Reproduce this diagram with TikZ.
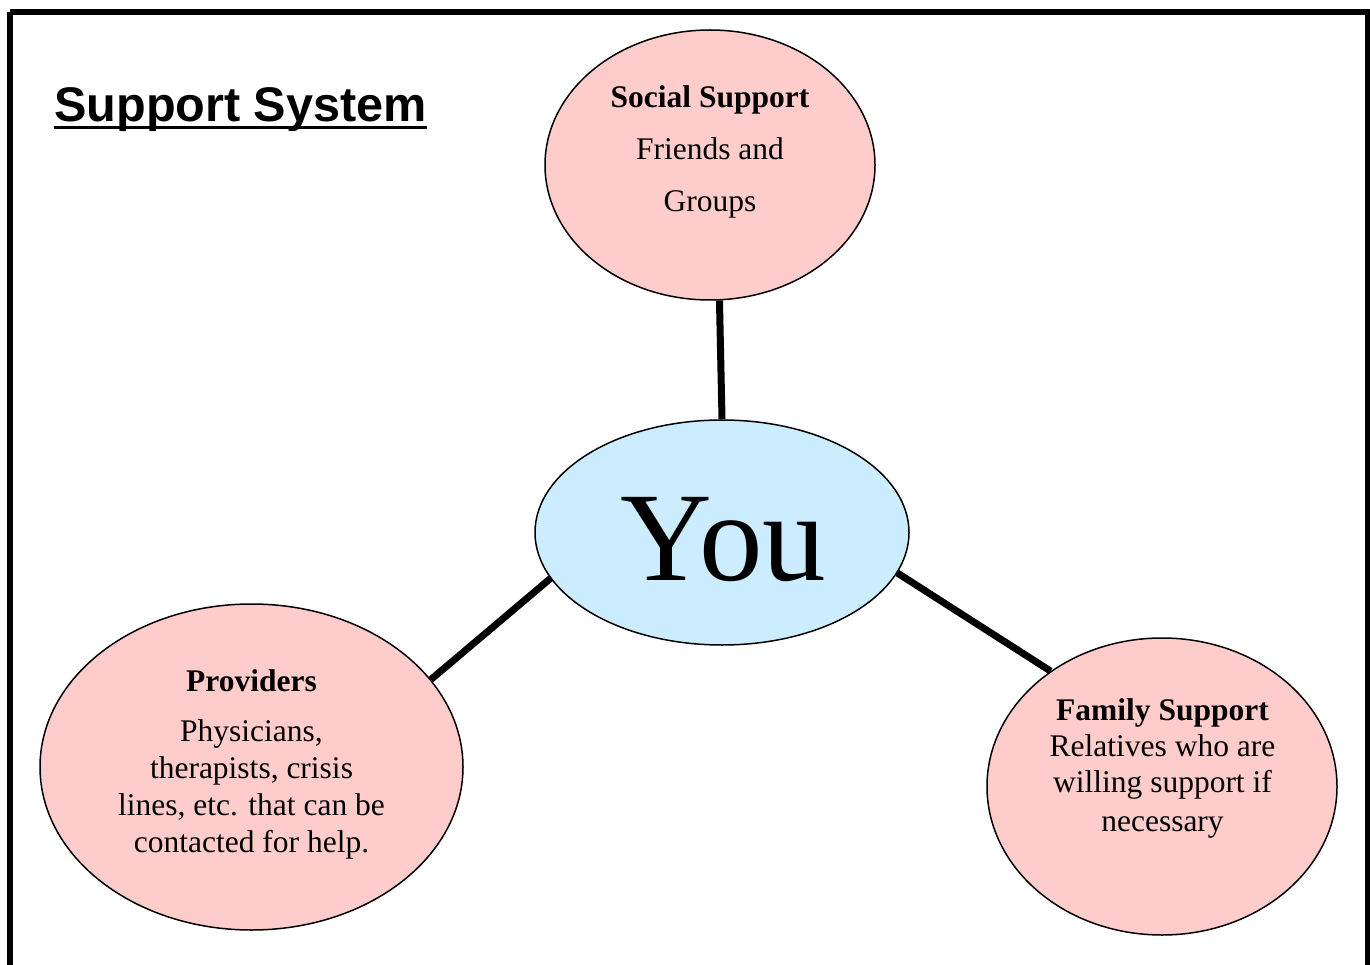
\documentclass[tikz,border=0pt]{standalone}
\usepackage{fontspec}
\setmainfont{Liberation Serif}
\newfontfamily\titlefont{Liberation Sans}
\usetikzlibrary{shapes.geometric}
\definecolor{pinkfill}{HTML}{FFCCCC}
\definecolor{bluefill}{HTML}{CCECFF}
\tikzset{
  bubble/.style={ellipse, draw=black, line width=1.5pt, inner sep=0pt},
  link/.style={line width=7pt, draw=black},
  bodytext/.style={inner sep=0pt, align=center, anchor=base, font=\fontsize{31.5}{37}\selectfont},
}
\begin{document}
\begin{tikzpicture}[x=1pt,y=-1pt]
\useasboundingbox (0,0) rectangle (1370,965);
\fill[white] (0,0) rectangle (1370,965);
\draw[line width=6pt] (10,12.5) -- (1368,12.5) -- (1368,1000);
\draw[line width=6pt] (10,12.5) -- (10,1000);

% title
\node[inner sep=0pt, anchor=base west, font=\titlefont\bfseries\fontsize{48.6}{56}\selectfont] (title) at (54,122) {Support System};
\draw[line width=3pt] ([yshift=-5.5pt]title.base west) -- ([yshift=-5.5pt]title.base east);

% ellipses
\node[bubble, fill=pinkfill, minimum width=330pt, minimum height=270pt] (social) at (710,165) {};
\node[bubble, fill=bluefill, minimum width=374pt, minimum height=225pt] (you) at (722,532.5) {};
\node[bubble, fill=pinkfill, minimum width=423pt, minimum height=326pt] (prov) at (251.5,767) {};
\node[bubble, fill=pinkfill, minimum width=350pt, minimum height=297pt] (family) at (1162,786.5) {};

% connectors
\draw[link] (social.-86) -- (you.90);
\draw[link] (you.195) -- (prov.26);
\draw[link] (you.-13) -- (family.134);

% texts (base anchor = baseline of the last line)
\node[inner sep=0pt, anchor=base, font=\fontsize{127}{130}\selectfont] (youtext) at (723,580) {You};
\node[bodytext, font=\fontsize{31.5}{52}\selectfont] (socialtext) at (710,212) {\textbf{Social Support}\\Friends and\\Groups};
\node[bodytext] (provtext) at (251.5,852) {\textbf{Providers}\\[13pt]Physicians,\\therapists, crisis\\lines, etc. that can be\\contacted for help.};
\node[bodytext, font=\fontsize{31.5}{36}\selectfont] (familytext) at (1162.5,831) {\textbf{Family Support}\\Relatives who are\\willing support if\\[3pt]necessary};
\end{tikzpicture}
\end{document}
